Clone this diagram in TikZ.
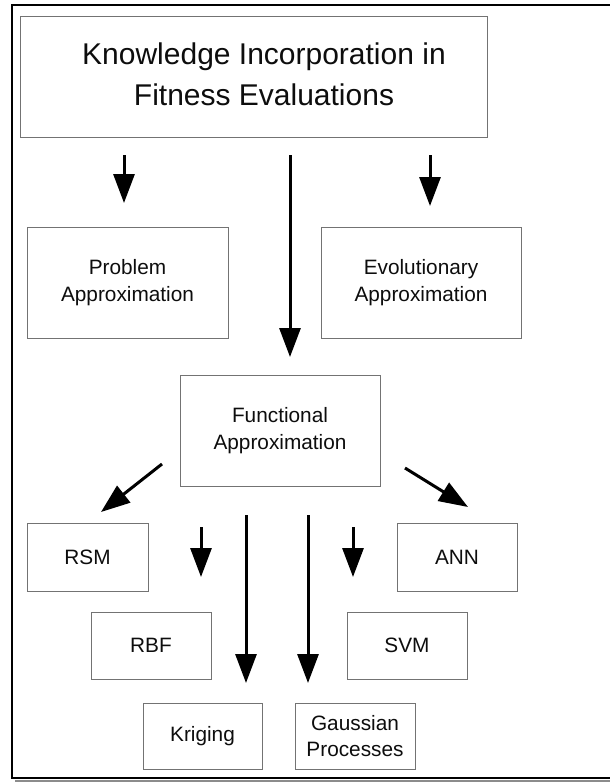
\documentclass[tikz,border=0pt]{standalone}
\usepackage{fontspec}
\setmainfont{Liberation Sans}
\usetikzlibrary{arrows.meta}
\begin{document}
\begin{tikzpicture}[x=1pt,y=-1pt,
 box/.style={draw=black!55, line width=0.9pt, align=center, text=black!95,
   font=\fontsize{20.8}{26.5}\selectfont, inner sep=0pt},
 arr/.style={line width=3pt, -{Triangle[length=29pt,width=21pt]}}]
\useasboundingbox (0,0) rectangle (610,782);
% outer frame (cut at the right)
\draw[black!45, line width=2pt] (15,780.5) -- (610,780.5);
\draw[black, line width=2.4pt] (610,5) -- (12,5) -- (12,778) -- (610,778);
% boxes
\node[box, minimum width=467, minimum height=121] (title) at (253.5,76.5) {};
\node[align=center, text=black!95, font=\fontsize{30}{41}\selectfont, inner sep=0pt] (titletext) at (264,74) {Knowledge Incorporation in\\Fitness Evaluations};
\node[box, minimum width=201, minimum height=111] (prob) at (127.5,282.5) {Problem\\Approximation};
\node[box, minimum width=200, minimum height=111] (evo) at (421,282.5) {Evolutionary\\Approximation};
\node[box, minimum width=200, minimum height=111] (func) at (280,430.5) {Functional\\Approximation};
\node[box, minimum width=121, minimum height=68] (rsm) at (87.5,557) {RSM};
\node[box, minimum width=120, minimum height=68] (ann) at (457,557) {ANN};
\node[box, minimum width=120, minimum height=67] (rbf) at (151,645.5) {RBF};
\node[box, minimum width=120, minimum height=67] (svm) at (407,645.5) {SVM};
\node[box, minimum width=119, minimum height=66] (krig) at (202.5,736) {Kriging};
\node[box, minimum width=120, minimum height=66] (gauss) at (355,736) {Gaussian\\Processes};
% arrow end points
\coordinate (a1s) at (124,155); \coordinate (a1e) at (124,203);
\coordinate (a2s) at (290,155); \coordinate (a2e) at (290,357);
\coordinate (a3s) at (430,155); \coordinate (a3e) at (430,206);
\coordinate (a4s) at (162,464); \coordinate (a4e) at (101,512);
\coordinate (a5s) at (405,468); \coordinate (a5e) at (468,507);
\coordinate (a6s) at (201,527); \coordinate (a6e) at (201,577);
\coordinate (a7s) at (353,527); \coordinate (a7e) at (353,577);
\coordinate (a8s) at (246,515); \coordinate (a8e) at (246,683);
\coordinate (a9s) at (308,515); \coordinate (a9e) at (308,683);
\foreach \i in {1,...,9} \draw[arr] (a\i s) -- (a\i e);
\end{tikzpicture}
\end{document}
